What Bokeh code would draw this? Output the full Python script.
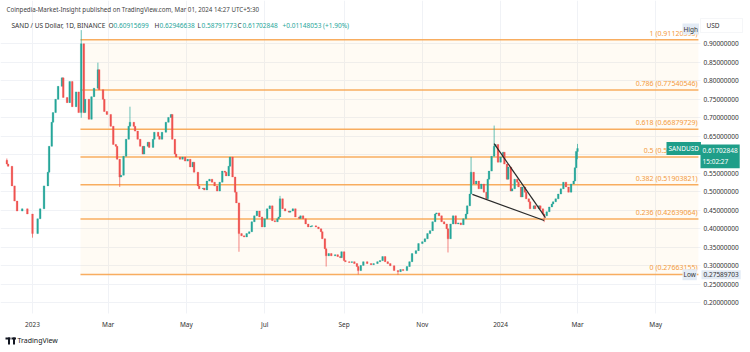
import pandas as pd
from bokeh.plotting import figure
from bokeh.models import (Range1d, FixedTicker, CustomJSTickFormatter, PrintfTickFormatter,
                          Label, BoxAnnotation, ColumnDataSource)
from bokeh.embed import file_html
from bokeh.resources import INLINE

# ---------------- data ----------------
dates = [
 "2022-12-12","2022-12-13","2022-12-16","2022-12-18","2022-12-20","2022-12-24","2022-12-28",
 "2023-01-01","2023-01-05","2023-01-07","2023-01-10","2023-01-13","2023-01-14","2023-01-16",
 "2023-01-17","2023-01-19","2023-01-21","2023-01-24","2023-01-25","2023-01-28","2023-01-30",
 "2023-02-01","2023-02-04","2023-02-06","2023-02-08","2023-02-10","2023-02-11","2023-02-14",
 "2023-02-16","2023-02-18","2023-02-21","2023-02-22","2023-02-25","2023-02-26","2023-02-28",
 "2023-03-03","2023-03-05","2023-03-07","2023-03-08","2023-03-10","2023-03-11","2023-03-13",
 "2023-03-15","2023-03-17","2023-03-18","2023-03-21","2023-03-22","2023-03-24","2023-03-26",
 "2023-03-28","2023-03-29","2023-04-01","2023-04-02","2023-04-05","2023-04-06","2023-04-09",
 "2023-04-10","2023-04-12","2023-04-15","2023-04-17","2023-04-19","2023-04-20","2023-04-22",
 "2023-04-23","2023-04-26","2023-04-28","2023-04-30","2023-05-02","2023-05-04","2023-05-06",
 "2023-05-07","2023-05-10","2023-05-11","2023-05-14","2023-05-15","2023-05-17","2023-05-19",
 "2023-05-21","2023-05-23","2023-05-25","2023-05-27","2023-05-29","2023-05-31","2023-06-01",
 "2023-06-03","2023-06-04","2023-06-06","2023-06-08","2023-06-09","2023-06-11","2023-06-13",
 "2023-06-15","2023-06-17","2023-06-19","2023-06-21","2023-06-23","2023-06-25","2023-06-27",
 "2023-06-29","2023-07-01","2023-07-03","2023-07-05","2023-07-07","2023-07-09","2023-07-11",
 "2023-07-12","2023-07-13","2023-07-15","2023-07-17","2023-07-20","2023-07-21","2023-07-23",
 "2023-07-25","2023-07-28","2023-07-29","2023-07-31","2023-08-02","2023-08-04","2023-08-06",
 "2023-08-07","2023-08-10","2023-08-12","2023-08-14","2023-08-15","2023-08-17","2023-08-18",
 "2023-08-20","2023-08-22","2023-08-25","2023-08-27","2023-08-29","2023-08-30","2023-09-01",
 "2023-09-02","2023-09-05","2023-09-07","2023-09-09","2023-09-11","2023-09-12","2023-09-14",
 "2023-09-16","2023-09-19","2023-09-22","2023-09-24","2023-09-27","2023-09-29","2023-10-01",
 "2023-10-03","2023-10-05","2023-10-07","2023-10-10","2023-10-13","2023-10-15","2023-10-17",
 "2023-10-20","2023-10-22","2023-10-24","2023-10-27","2023-10-29","2023-11-01","2023-11-03",
 "2023-11-05","2023-11-07","2023-11-09","2023-11-11","2023-11-12","2023-11-14","2023-11-16",
 "2023-11-18","2023-11-20","2023-11-21","2023-11-23","2023-11-25","2023-11-27","2023-11-29",
 "2023-12-01","2023-12-03","2023-12-05","2023-12-06","2023-12-08","2023-12-09","2023-12-11",
 "2023-12-13","2023-12-15","2023-12-17","2023-12-19","2023-12-21","2023-12-22","2023-12-23",
 "2023-12-25","2023-12-27","2023-12-28","2023-12-30","2024-01-01","2024-01-03","2024-01-04",
 "2024-01-06","2024-01-07","2024-01-09","2024-01-10","2024-01-12","2024-01-14","2024-01-15",
 "2024-01-17","2024-01-18","2024-01-20","2024-01-21","2024-01-23","2024-01-24","2024-01-27",
 "2024-01-28","2024-01-31","2024-02-01","2024-02-03","2024-02-04","2024-02-06","2024-02-08",
 "2024-02-10","2024-02-11","2024-02-13","2024-02-15","2024-02-17","2024-02-19","2024-02-21",
 "2024-02-23","2024-02-25","2024-02-27","2024-02-28","2024-02-29","2024-03-01",
]
closes = [
 0.575,0.569,0.516,0.475,0.448,0.454,0.440,
 0.387,0.427,0.454,0.516,0.553,0.623,0.688,
 0.714,0.750,0.785,0.808,0.755,0.741,0.798,
 0.730,0.770,0.714,0.900,0.714,0.750,0.696,
 0.757,0.780,0.830,0.776,0.750,0.717,0.709,
 0.677,0.628,0.623,0.588,0.540,0.545,0.596,
 0.642,0.677,0.688,0.677,0.664,0.642,0.623,
 0.602,0.623,0.634,0.620,0.642,0.661,0.650,
 0.642,0.661,0.688,0.701,0.709,0.642,0.602,
 0.594,0.588,0.594,0.583,0.588,0.567,0.580,
 0.553,0.516,0.508,0.510,0.505,0.529,0.534,
 0.526,0.516,0.502,0.526,0.556,0.553,0.543,
 0.569,0.594,0.540,0.499,0.470,0.387,0.381,
 0.378,0.387,0.392,0.419,0.435,0.448,0.432,
 0.405,0.427,0.454,0.462,0.422,0.419,0.427,
 0.432,0.481,0.454,0.448,0.445,0.448,0.454,
 0.432,0.428,0.435,0.427,0.413,0.405,0.407,
 0.408,0.405,0.400,0.392,0.373,0.346,0.327,
 0.333,0.327,0.330,0.325,0.322,0.338,0.314,
 0.311,0.309,0.311,0.306,0.298,0.287,0.301,
 0.311,0.306,0.303,0.306,0.311,0.314,0.325,
 0.311,0.306,0.300,0.287,0.284,0.290,0.287,
 0.298,0.311,0.333,0.341,0.360,0.365,0.373,
 0.387,0.395,0.419,0.440,0.443,0.435,0.419,
 0.413,0.400,0.373,0.413,0.435,0.413,0.416,
 0.411,0.427,0.440,0.462,0.494,0.553,0.521,
 0.529,0.508,0.521,0.499,0.481,0.534,0.556,
 0.596,0.623,0.628,0.580,0.594,0.607,0.575,
 0.534,0.567,0.502,0.508,0.534,0.526,0.513,
 0.486,0.513,0.499,0.481,0.473,0.454,0.462,
 0.454,0.462,0.454,0.440,0.435,0.446,0.459,
 0.467,0.473,0.481,0.494,0.508,0.526,0.513,
 0.499,0.521,0.529,0.565,0.60915699,0.61702848,
]
first_open = 0.585

hi_dates = ["2022-12-12","2023-02-08","2023-02-21","2023-03-18","2023-07-13",
            "2023-12-09","2023-12-27","2024-03-01"]
hi_vals = [0.590, 0.937, 0.849, 0.730, 0.489, 0.594, 0.679, 0.62946638]
lo_dates = ["2023-01-01","2023-02-08","2023-03-10","2023-06-11","2023-08-18",
            "2023-09-12","2023-10-13","2023-11-21","2024-02-04","2024-03-01"]
lo_vals = [0.376, 0.700, 0.513, 0.338, 0.298, 0.2766, 0.2759, 0.336, 0.418, 0.58791773]

fib_ratios = ["1", "0.786", "0.618", "0.5", "0.382", "0.236", "0"]
fib_prices = [0.91120393, 0.77540546, 0.66879729, 0.59391774, 0.51903821, 0.42639064, 0.27663155]
fib_start = "2023-02-07 10:00"
fib_end = "2024-06-03 07:00"

tri_upper_dates = ["2023-12-27", "2024-02-05"]
tri_upper_prices = [0.630, 0.430]
tri_lower_dates = ["2023-12-10", "2024-02-04"]
tri_lower_prices = [0.493, 0.4224]

price_ticks = [0.20, 0.25, 0.30, 0.35, 0.40, 0.45, 0.50, 0.55, 0.60, 0.65, 0.70, 0.75, 0.80, 0.85, 0.90]
time_ticks = ["2023-01-01","2023-03-01","2023-05-01","2023-07-01","2023-09-01",
              "2023-11-01","2024-01-01","2024-03-01","2024-05-01"]

last_price = 0.61702848
low_price = 0.27589703

# pane limits (price pane ends where the time scale and price scale begin)
pane_right = pd.Timestamp("2024-06-04 21:40")
pane_bottom = 0.1711

# ---------------- build candles ----------------
df = pd.DataFrame({"date": pd.to_datetime(dates), "close": closes})
df["open"] = [first_open] + closes[:-1]
df["high"] = df[["open", "close"]].max(axis=1)
df["low"] = df[["open", "close"]].min(axis=1)
for d, v in zip(hi_dates, hi_vals):
    m = df["date"] == pd.Timestamp(d)
    df.loc[m, "high"] = df.loc[m, "high"].clip(lower=v)
for d, v in zip(lo_dates, lo_vals):
    m = df["date"] == pd.Timestamp(d)
    df.loc[m, "low"] = df.loc[m, "low"].clip(upper=v)
UP, DOWN = "#26a69a", "#ef5350"
df["color"] = [UP if c >= o else DOWN for o, c in zip(df["open"], df["close"])]
df["top"] = df[["open", "close"]].max(axis=1)
df["bottom"] = df[["open", "close"]].min(axis=1)
src = ColumnDataSource(df)

FONT = "Noto Sans"
p = figure(width=750, height=352, x_axis_type="datetime", y_axis_location="right",
           x_range=Range1d(pd.Timestamp("2022-12-07 01:00"), pd.Timestamp("2024-07-13 21:36")),
           y_range=Range1d(0.0657, 1.0170),
           output_backend="svg", toolbar_location=None,
           min_border_left=0, min_border_right=0, min_border_top=0, min_border_bottom=0)
p.background_fill_color = "white"
p.border_fill_color = "white"
p.outline_line_color = None

# grid
p.xgrid.ticker = FixedTicker(ticks=[pd.Timestamp(t).value / 1e6 for t in time_ticks])
p.ygrid.ticker = FixedTicker(ticks=price_ticks)
p.xgrid.grid_line_color = "#f0f2f6"
p.ygrid.grid_line_color = "#f0f2f6"

# scale areas (no grid there)
p.add_layout(BoxAnnotation(left=pane_right, fill_color="white", fill_alpha=1, line_color=None, level="underlay"))
p.add_layout(BoxAnnotation(top=pane_bottom, fill_color="white", fill_alpha=1, line_color=None, level="underlay"))

# axes (drawn inside the canvas edge)
ya = p.yaxis[0]
ya.ticker = FixedTicker(ticks=price_ticks)
ya.formatter = PrintfTickFormatter(format="%.8f")
ya.axis_line_color = None
ya.major_tick_line_color = None
ya.minor_tick_line_color = None
ya.major_tick_out = 0
ya.major_label_standoff = -47
ya.major_label_text_font = FONT
ya.major_label_text_font_size = "6.5px"
ya.major_label_text_color = "#333333"

xa = p.xaxis[0]
xa.ticker = FixedTicker(ticks=[pd.Timestamp(t).value / 1e6 for t in time_ticks])
xa.formatter = CustomJSTickFormatter(code="""
const d = new Date(tick);
const m = d.getUTCMonth();
const n = ["Jan","Feb","Mar","Apr","May","Jun","Jul","Aug","Sep","Oct","Nov","Dec"];
return m == 0 ? String(d.getUTCFullYear()) : n[m];
""")
xa.axis_line_color = None
xa.major_tick_line_color = None
xa.minor_tick_line_color = None
xa.major_tick_out = 0
xa.major_label_standoff = -33
xa.major_label_text_font = FONT
xa.major_label_text_font_size = "6.5px"
xa.major_label_text_color = "#333333"

# fib background and levels
FIB = "#f7a44f"
p.add_layout(BoxAnnotation(left=pd.Timestamp(fib_start), right=pd.Timestamp(fib_end),
                           bottom=fib_prices[-1], top=fib_prices[0],
                           fill_color="#ff9800", fill_alpha=0.045, line_color=None, level="underlay"))
fsrc = ColumnDataSource(dict(x0=[pd.Timestamp(fib_start)] * len(fib_prices),
                             x1=[pd.Timestamp(fib_end)] * len(fib_prices), y=fib_prices))
p.segment(x0="x0", y0="y", x1="x1", y1="y", source=fsrc, line_color=FIB, line_width=1.5, line_alpha=0.9)
for r, v in zip(fib_ratios, fib_prices):
    p.add_layout(Label(x=697, y=v, x_units="screen", y_units="data", text=f"{r} ({v:.8f})",
                       text_align="right", text_baseline="bottom", y_offset=2,
                       text_font=FONT, text_font_size="7px", text_color="#f39a3c"))

# candles
p.segment(x0="date", y0="low", x1="date", y1="high", source=src, line_color="color", line_width=1, line_alpha=0.7)
p.vbar(x="date", width=1.3 * 86400000, top="top", bottom="bottom", source=src,
       fill_color="color", line_color="color", line_width=0.3)

# triangle lines
p.line(pd.to_datetime(tri_upper_dates), tri_upper_prices, line_color="#2a2a2a", line_width=1.2)
p.line(pd.to_datetime(tri_lower_dates), tri_lower_prices, line_color="#2a2a2a", line_width=1.2)

# header / footer texts (screen y measured up from the bottom edge)
def lab(x, y, text, color="#333333", size="6.5px", **kw):
    p.add_layout(Label(x=x, y=y, x_units="screen", y_units="screen", text=text, text_color=color,
                       text_font=FONT, text_font_size=size, text_baseline="middle", **kw))

lab(6, 343, "Coinpedia-Market-Insight published on TradingView.com, Mar 01, 2024 14:27 UTC+5:30", "#444444", size="6.2px")
G = "#26a69a"
lab(11, 327, "SAND / US Dollar, 1D, BINANCE", "#333333")
lab(108, 327, "O", "#333333"); lab(113, 327, "0.60915699", G)
lab(154, 327, "H", "#333333"); lab(159, 327, "0.62946638", G)
lab(197, 327, "L", "#333333"); lab(201, 327, "0.58791773", G)
lab(237, 327, "C", "#333333"); lab(242, 327, "0.61702848", G)
lab(282, 327, "+0.01148053 (+1.90%)", G)

# TradingView logo (simple marks) + name
for l, r, b, t in [(5, 10, 13, 15), (7.5, 9.5, 8, 15), (11, 15.5, 13, 15), (12.5, 14.5, 8, 15)]:
    p.add_layout(BoxAnnotation(left=l, right=r, bottom=b, top=t, left_units="screen", right_units="screen",
                               bottom_units="screen", top_units="screen",
                               fill_color="#131722", fill_alpha=1, line_color=None))
lab(17, 12, "TradingView", "#131722", size="7px")

# price-scale badges
p.add_layout(BoxAnnotation(left=700, right=742, bottom=320, top=334, left_units="screen", right_units="screen",
                           bottom_units="screen", top_units="screen",
                           fill_color="white", fill_alpha=1, line_color="#dfe2e8", line_width=1))
lab(706, 327, "USD", "#333333")
p.add_layout(Label(x=682, y=323.5, x_units="screen", y_units="screen", text="High",
                   text_font=FONT, text_font_size="6.5px", text_color="#333333", text_baseline="middle",
                   background_fill_color="#e3ebf5", padding=1))
p.add_layout(Label(x=682, y=low_price, x_units="screen", y_units="data", text="Low",
                   text_font=FONT, text_font_size="6.5px", text_color="#333333", text_baseline="middle",
                   background_fill_color="#e3ebf5", padding=1))
p.add_layout(Label(x=701, y=low_price, x_units="screen", y_units="data", text=f"{low_price:.8f}",
                   text_font=FONT, text_font_size="6.5px", text_color="#333333", text_baseline="middle",
                   background_fill_color="#e3ebf5", padding=2))
p.add_layout(Label(x=666, y=last_price, x_units="screen", y_units="data", text="SANDUSD",
                   text_font=FONT, text_font_size="6.5px", text_color="white", text_baseline="middle",
                   background_fill_color="#1f9e89", padding=2))
p.add_layout(Label(x=700, y=last_price, x_units="screen", y_units="data", text=f"{last_price:.8f}\n15:02:27",
                   text_font=FONT, text_font_size="6.5px", text_color="white", text_baseline="top",
                   y_offset=4, background_fill_color="#1f9e89", padding=2))

open("out.html", "w").write(file_html(p, INLINE))
